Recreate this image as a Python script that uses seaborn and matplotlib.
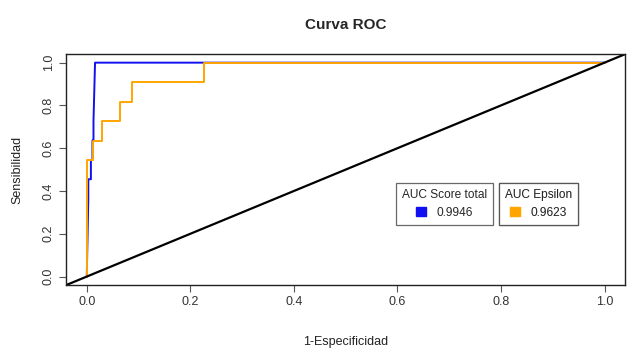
import matplotlib
matplotlib.use("Agg")
import matplotlib.pyplot as plt
import matplotlib.patches as mpatches
import seaborn as sns
import pandas as pd

# ROC points
fpr_total = [0.0, 0.003, 0.003, 0.008, 0.008, 0.011, 0.011, 0.013, 0.013, 0.016, 1.0]
tpr_total = [0.0, 0.364, 0.455, 0.455, 0.545, 0.545, 0.636, 0.636, 0.727, 1.0, 1.0]

fpr_eps = [0.0, 0.0, 0.012, 0.012, 0.029, 0.029, 0.064, 0.064, 0.087, 0.087, 0.227, 0.227, 1.0]
tpr_eps = [0.0, 0.545, 0.545, 0.636, 0.636, 0.727, 0.727, 0.818, 0.818, 0.909, 0.909, 1.0, 1.0]

auc_labels = ["AUC Score total", "AUC Epsilon"]
auc_values = ["0.9946", "0.9623"]
colors = ["#1010F0", "#FFA500"]

df_total = pd.DataFrame({"fpr": fpr_total, "tpr": tpr_total})
df_eps = pd.DataFrame({"fpr": fpr_eps, "tpr": tpr_eps})

sns.set_theme(style="ticks")
plt.rcParams["font.family"] = ["Liberation Sans", "DejaVu Sans"]

fig = plt.figure(figsize=(6.29, 3.49), dpi=100)
ax = fig.add_axes([0.105, 0.183, 0.889, 0.662])

sns.lineplot(data=df_total, x="fpr", y="tpr", ax=ax, color=colors[0], linewidth=1.4,
             sort=False, estimator=None)
sns.lineplot(data=df_eps, x="fpr", y="tpr", ax=ax, color=colors[1], linewidth=1.4,
             sort=False, estimator=None)
ax.axline((0, 0), slope=1, color="black", linewidth=1.6)

ax.set_xlim(-0.04, 1.04)
ax.set_ylim(-0.04, 1.04)
ticks = [0.0, 0.2, 0.4, 0.6, 0.8, 1.0]
ax.set_xticks(ticks)
ax.set_yticks(ticks)
ax.set_xticklabels([f"{t:.1f}" for t in ticks], fontsize=9, color="#333333")
ax.set_yticklabels([f"{t:.1f}" for t in ticks], fontsize=9, color="#333333",
                   rotation=90, va="center")
ax.tick_params(axis="both", direction="out", length=5, width=0.8, color="#555555", pad=3)
for s in ax.spines.values():
    s.set_visible(True)
    s.set_color("#222222")
    s.set_linewidth(1.0)

ax.set_xlabel("1-Especificidad", fontsize=9, color="#222222", labelpad=20)
ax.set_ylabel("Sensibilidad", fontsize=9, color="#222222", labelpad=14)
ax.set_title("Curva ROC", fontsize=11, fontweight="bold", pad=18)

# two separate legend boxes, R style
anchors = [(0.590, 0.442), (0.774, 0.442)]
for lab, val, col, anc in zip(auc_labels, auc_values, colors, anchors):
    handle = mpatches.Patch(facecolor=col, edgecolor=col)
    leg = ax.legend([handle], [val], title=lab, loc="upper left", bbox_to_anchor=anc,
                    fontsize=8.6, title_fontsize=8.6, frameon=True, fancybox=False,
                    handlelength=0.8, handleheight=0.8, handletextpad=0.9,
                    borderpad=0.5, borderaxespad=0)
    leg.get_frame().set_edgecolor("#444444")
    leg.get_frame().set_linewidth(0.9)
    ax.add_artist(leg)

fig.savefig("out.png", dpi=100)
